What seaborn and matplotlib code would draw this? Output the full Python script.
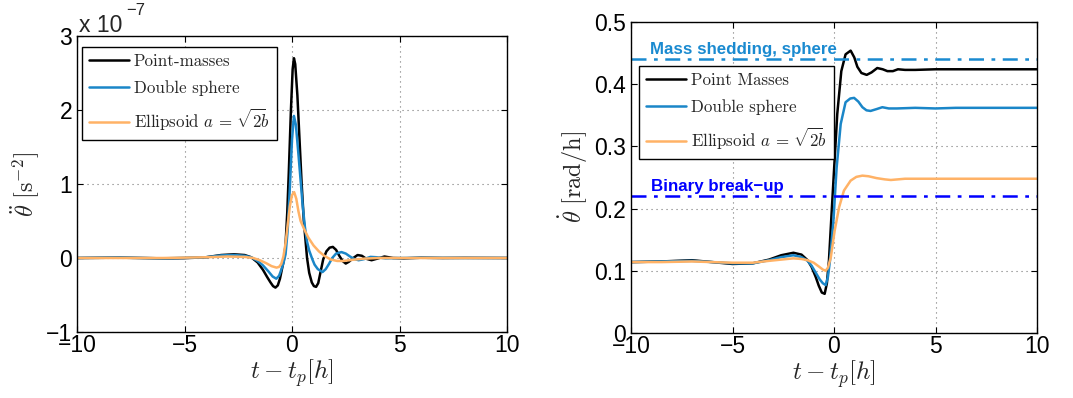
import numpy as np
import pandas as pd
import matplotlib
matplotlib.use("Agg")
import matplotlib.pyplot as plt
import seaborn as sns

# ---------------- data ----------------
# angular acceleration (units of 1e-7 s^-2) vs time from pericentre [h]
t_acc_pm = [-10, -8, -7, -6, -5, -4, -3.3, -2.7, -2.2, -1.9, -1.6, -1.35, -1.15, -1.0,
            -0.88, -0.77, -0.66, -0.56, -0.46, -0.38, -0.3, -0.22, -0.15, -0.05, 0.03,
            0.09, 0.15, 0.25, 0.35, 0.45, 0.55, 0.7, 0.8, 0.92, 1.02, 1.12, 1.22, 1.32,
            1.45, 1.6, 1.75, 1.9, 2.05, 2.2, 2.35, 2.5, 2.65, 2.85, 3.05, 3.25, 3.45,
            3.7, 3.95, 4.3, 4.7, 5.2, 6, 7, 8, 10]
acc_pm = [0.0, 0.005, 0.0, -0.005, -0.002, 0.01, 0.04, 0.05, 0.04, 0.01, -0.06, -0.16,
          -0.26, -0.33, -0.38, -0.40, -0.37, -0.28, -0.14, -0.03, 0.18, 0.62, 1.15,
          2.0, 2.55, 2.70, 2.62, 2.2, 1.6, 1.0, 0.5, 0.0, -0.2, -0.33, -0.38, -0.39,
          -0.34, -0.2, -0.02, 0.09, 0.14, 0.15, 0.11, 0.03, -0.04, -0.075, -0.05, 0.0,
          0.04, 0.03, -0.01, -0.03, -0.01, 0.02, 0.0, -0.005, 0.004, 0.0, 0.002, 0.0]

t_acc_ds = [-10, -8, -6, -4, -3.3, -2.7, -2.2, -1.9, -1.6, -1.35, -1.1, -0.9, -0.73,
            -0.6, -0.5, -0.4, -0.3, -0.2, -0.1, 0.0, 0.09, 0.18, 0.3, 0.4, 0.5, 0.6,
            0.7, 0.8, 0.95, 1.05, 1.2, 1.42, 1.57, 1.72, 1.87, 2.05, 2.3, 2.5, 2.7,
            2.9, 3.1, 3.35, 3.65, 3.95, 4.35, 5, 6, 8, 10]
acc_ds = [0.0, 0.005, -0.005, 0.01, 0.035, 0.04, 0.03, 0.01, -0.04, -0.1, -0.18, -0.25,
          -0.28, -0.24, -0.16, -0.07, 0.05, 0.38, 0.95, 1.6, 1.92, 1.8, 1.4, 1.05, 0.7,
          0.42, 0.22, 0.1, -0.02, -0.09, -0.15, -0.19, -0.15, -0.08, 0.0, 0.06, 0.08,
          0.06, 0.02, -0.015, -0.03, -0.015, 0.015, 0.01, -0.005, 0.0, 0.003, 0.0, 0.0]

t_acc_el = [-10, -6, -4, -3, -2.2, -1.8, -1.5, -1.2, -0.95, -0.72, -0.6, -0.5, -0.4,
            -0.3, -0.2, -0.1, 0.0, 0.1, 0.2, 0.3, 0.4, 0.55, 0.75, 1.0, 1.25, 1.5, 1.8,
            2.1, 2.4, 2.8, 3.3, 4, 5, 10]
acc_el = [0.0, 0.0, 0.01, 0.02, 0.015, 0.0, -0.03, -0.07, -0.11, -0.13, -0.12, -0.08,
          0.02, 0.2, 0.45, 0.7, 0.85, 0.89, 0.8, 0.63, 0.5, 0.4, 0.28, 0.17, 0.09, 0.03,
          -0.02, -0.04, -0.04, -0.025, -0.01, 0.0, 0.0, 0.0]

# angular velocity [rad/h]
t_vel_pm = [-10, -8.5, -7, -6, -5, -4, -3.2, -2.6, -2.0, -1.6, -1.3, -1.1, -0.9, -0.75,
            -0.6, -0.46, -0.35, -0.25, -0.13, 0.0, 0.16, 0.36, 0.57, 0.82, 1.0, 1.15,
            1.35, 1.61, 1.85, 2.13, 2.4, 2.63, 2.9, 3.15, 3.5, 4, 5, 6, 7, 8, 9, 10]
vel_pm = [0.114, 0.115, 0.117, 0.114, 0.111, 0.112, 0.118, 0.125, 0.129, 0.126, 0.117,
          0.106, 0.09, 0.076, 0.065, 0.063, 0.08, 0.116, 0.186, 0.261, 0.352, 0.421,
          0.448, 0.454, 0.443, 0.428, 0.418, 0.415, 0.419, 0.426, 0.424, 0.421, 0.421,
          0.424, 0.423, 0.423, 0.424, 0.424, 0.424, 0.424, 0.424, 0.424]

t_vel_ds = [-10, -8.5, -7, -6, -5, -4, -3.2, -2.6, -2.0, -1.6, -1.3, -1.1, -0.9, -0.7,
            -0.55, -0.41, -0.3, -0.2, -0.03, 0.13, 0.33, 0.57, 0.8, 0.99, 1.2, 1.4, 1.6,
            1.8, 2.1, 2.38, 2.7, 3.1, 4, 5, 6, 8, 10]
vel_ds = [0.114, 0.115, 0.116, 0.114, 0.112, 0.112, 0.117, 0.122, 0.125, 0.122, 0.116,
          0.108, 0.097, 0.086, 0.08, 0.077, 0.09, 0.116, 0.18, 0.266, 0.336, 0.371,
          0.377, 0.378, 0.372, 0.363, 0.358, 0.357, 0.36, 0.363, 0.361, 0.361, 0.362,
          0.361, 0.362, 0.362, 0.362]

t_vel_el = [-10, -8.5, -7, -6, -5, -4, -3.2, -2.6, -2.0, -1.6, -1.3, -1.0, -0.75, -0.55,
            -0.41, -0.3, -0.16, 0.03, 0.25, 0.49, 0.82, 1.1, 1.4, 1.7, 2.1, 2.5, 2.8,
            3.5, 4, 5, 6, 8, 10]
vel_el = [0.114, 0.114, 0.115, 0.114, 0.113, 0.113, 0.116, 0.118, 0.12, 0.119, 0.117,
          0.113, 0.107, 0.102, 0.1, 0.105, 0.121, 0.164, 0.202, 0.229, 0.245, 0.251,
          0.253, 0.252, 0.249, 0.247, 0.246, 0.248, 0.248, 0.248, 0.248, 0.248, 0.248]

acc_labels = ["Point-masses", "Double sphere", r"Ellipsoid $a\,=\,\sqrt{2}\!b$"]
vel_labels = ["Point Masses", "Double sphere", r"Ellipsoid $a\,=\,\sqrt{2}\!b$"]

mass_shedding_level = 0.44
breakup_level = 0.22
mass_shedding_text = "Mass shedding, sphere"
breakup_text = "Binary break\u2212up"

x_ticks = [-10, -5, 0, 5, 10]
acc_ticks = [-1, 0, 1, 2, 3]
vel_ticks = [0, 0.1, 0.2, 0.3, 0.4, 0.5]

# ---------------- styling ----------------
sns.set_style("ticks")
plt.rcParams.update({
    "font.family": ["Liberation Sans", "DejaVu Sans"],
    "mathtext.fontset": "cm",
    "axes.linewidth": 1.0,
    "axes.edgecolor": "black",
    "xtick.direction": "in",
    "ytick.direction": "in",
    "xtick.top": True,
    "ytick.right": True,
    "xtick.major.size": 4,
    "ytick.major.size": 4,
    "xtick.color": "black",
    "ytick.color": "black",
    "axes.unicode_minus": True,
})

colors = ["#000000", "#1a86c8", "#ffb266"]
shed_color = "#1a8ad0"
breakup_color = "#0000ff"


def long_frame(times, values, labels):
    parts = []
    for t, v, lab in zip(times, values, labels):
        parts.append(pd.DataFrame({"t": t, "value": v, "model": lab}))
    return pd.concat(parts, ignore_index=True)


df_acc = long_frame([t_acc_pm, t_acc_ds, t_acc_el], [acc_pm, acc_ds, acc_el], acc_labels)
df_vel = long_frame([t_vel_pm, t_vel_ds, t_vel_el], [vel_pm, vel_ds, vel_el], vel_labels)

fig = plt.figure(figsize=(10.73, 3.98), dpi=100)
ax1 = fig.add_axes([77 / 1073, 1 - 332 / 398, 430 / 1073, 296 / 398])
ax2 = fig.add_axes([631 / 1073, 1 - 333 / 398, 406 / 1073, 311 / 398])


def style_axes(ax, yticks, ylabels):
    ax.set_xlim(-10, 10)
    ax.set_xticks(x_ticks)
    ax.set_xticklabels([f"{v:d}".replace("-", "\u2212") for v in x_ticks])
    ax.set_yticks(yticks)
    ax.set_yticklabels(ylabels)
    ax.tick_params(labelsize=16.5)
    ax.tick_params(axis="y", pad=3.5)
    ax.tick_params(axis="x", pad=1.5)
    ax.grid(True, linestyle=(0, (1, 3.5)), color="#777777", linewidth=0.8)
    for s in ax.spines.values():
        s.set_visible(True)
        s.set_color("black")
        s.set_linewidth(1.0)
    ax.set_xlabel(r"$t - t_p[h]$", fontsize=18, labelpad=0)


def legend(ax, labels, anchor):
    handles = [plt.Line2D([], [], color=c, lw=1.8) for c in colors]
    leg = ax.legend(handles, labels, loc="upper left", bbox_to_anchor=anchor,
                    bbox_transform=fig.transFigure, borderaxespad=0,
                    prop={"family": "cmr10", "size": 12.2}, frameon=True,
                    fancybox=False, edgecolor="black", framealpha=1,
                    handlelength=2.4, handletextpad=0.25, labelspacing=0.65,
                    borderpad=0.4)
    leg.get_frame().set_linewidth(1.0)


# left: angular acceleration
sns.lineplot(data=df_acc, x="t", y="value", hue="model", palette=colors,
             estimator=None, sort=False, lw=1.8, legend=False, ax=ax1)
ax1.set_ylim(-1, 3)
style_axes(ax1, acc_ticks, [f"{v:d}".replace("-", "\u2212") for v in acc_ticks])
ax1.set_ylabel(r"$\ddot{\theta}\ [\mathrm{s}^{-2}]$", fontsize=17.5, labelpad=3)
legend(ax1, acc_labels, (82 / 1073, 1 - 47 / 398))
ax1.text(0.005, 1.0135, "x 10", transform=ax1.transAxes, fontsize=16.5,
         ha="left", va="baseline")
ax1.text(0.114, 1.071, "\u22127", transform=ax1.transAxes, fontsize=12,
         ha="left", va="baseline")

# right: angular velocity
sns.lineplot(data=df_vel, x="t", y="value", hue="model", palette=colors,
             estimator=None, sort=False, lw=1.8, legend=False, ax=ax2)
ax2.set_ylim(0, 0.5)
style_axes(ax2, vel_ticks, ["0"] + [f"{v:.1f}" for v in vel_ticks[1:]])
ax2.set_ylabel(r"$\dot{\theta}\ [\mathrm{rad/h}]$", fontsize=17.5, labelpad=3)
ax2.axhline(mass_shedding_level, color=shed_color, lw=1.8, linestyle=(0, (6, 3, 1.5, 3)))
ax2.axhline(breakup_level, color=breakup_color, lw=1.8, linestyle=(0, (6, 3, 1.5, 3)))
ax2.text(-9.05, 0.449, mass_shedding_text, color=shed_color, fontsize=12.2,
         fontweight="bold", ha="left", va="baseline")
ax2.text(-9.0, 0.229, breakup_text, color=breakup_color, fontsize=12.2,
         fontweight="bold", ha="left", va="baseline")
legend(ax2, vel_labels, (639 / 1073, 1 - 66 / 398))

fig.savefig("out.png", dpi=100)
